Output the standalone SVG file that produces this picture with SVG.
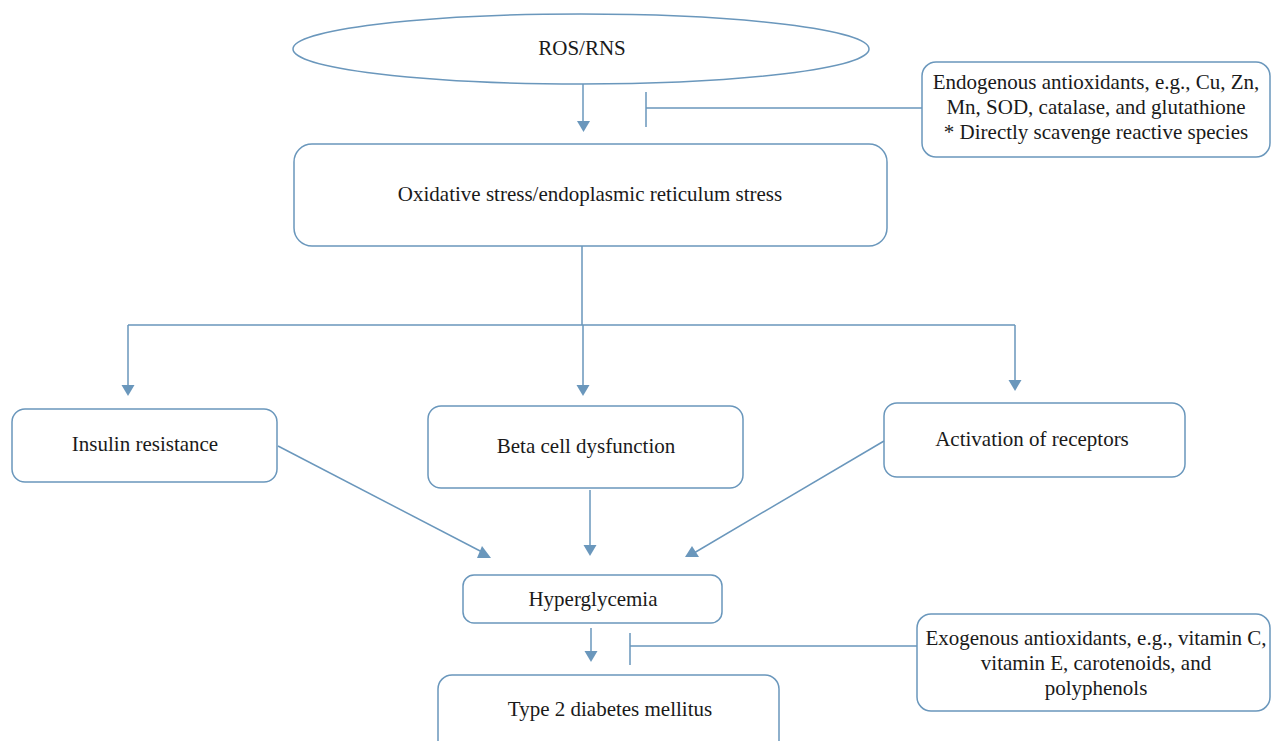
<svg xmlns="http://www.w3.org/2000/svg" width="1271" height="741" viewBox="0 0 1271 741">
<style>
.n{fill:#fff;stroke:#6a97bc;stroke-width:1.5}
.c{stroke:#6a97bc;stroke-width:1.5;fill:none}
.h{fill:#6a97bc;stroke:none}
.t{font-family:'Liberation Serif','DejaVu Serif',serif;font-size:21px;fill:#1a1a1a;text-anchor:middle}
</style>
<rect width="1271" height="741" fill="#fff"/>
<g class="t" font-family="Liberation Serif, serif">
<g id="ros"><ellipse class="n" cx="581" cy="49" rx="288" ry="35"/><text x="582" y="55">ROS/RNS</text></g>
<g id="endo"><rect class="n" x="922" y="62" width="348" height="95" rx="14"/>
<text x="1096" y="89">Endogenous antioxidants, e.g., Cu, Zn,</text>
<text x="1096" y="114">Mn, SOD, catalase, and glutathione</text>
<text x="1096" y="139">* Directly scavenge reactive species</text></g>
<g id="oxid"><rect class="n" x="294" y="144" width="593" height="102" rx="18"/><text x="590" y="201">Oxidative stress/endoplasmic reticulum stress</text></g>
<g id="insulin"><rect class="n" x="12" y="409" width="265" height="73" rx="13"/><text x="145" y="451">Insulin resistance</text></g>
<g id="beta"><rect class="n" x="428" y="406" width="315" height="82" rx="13"/><text x="586" y="453">Beta cell dysfunction</text></g>
<g id="recept"><rect class="n" x="884" y="403" width="301" height="74" rx="13"/><text x="1032" y="446">Activation of receptors</text></g>
<g id="hyper"><rect class="n" x="463" y="575" width="259" height="48" rx="11"/><text x="593" y="606">Hyperglycemia</text></g>
<g id="exo"><rect class="n" x="917" y="614" width="353" height="97" rx="14"/>
<text x="1096" y="645">Exogenous antioxidants, e.g., vitamin C,</text>
<text x="1096" y="670">vitamin E, carotenoids, and</text>
<text x="1096" y="695">polyphenols</text></g>
<g id="t2dm"><rect class="n" x="438" y="675" width="341" height="80" rx="14"/><text x="610" y="716">Type 2 diabetes mellitus</text></g>
</g>
<g id="connectors">
<path class="c" d="M583 84V122"/><polygon class="h" points="577,121 590,121 583.5,132"/>
<path class="c" d="M646 92V127M646 108H922"/>
<path class="c" d="M582 246V325M128 325H1015M128 325V386M583 325V386M1015 325V381"/>
<polygon class="h" points="121.5,385 134.5,385 128,396"/>
<polygon class="h" points="576.5,385 589.5,385 583,396"/>
<polygon class="h" points="1008.5,380 1021.5,380 1015,391"/>
<path class="c" d="M278 446L484 553"/><polygon class="h" points="482,546 491,558 477,558"/>
<path class="c" d="M590 490V546"/><polygon class="h" points="583.5,545 596.5,545 590,556"/>
<path class="c" d="M884 441L694 553"/><polygon class="h" points="692,546 699,557 685,557"/>
<path class="c" d="M591 628V652"/><polygon class="h" points="584.5,651 597.5,651 591,662"/>
<path class="c" d="M630 633V665M630 646H917"/>
</g>
</svg>
